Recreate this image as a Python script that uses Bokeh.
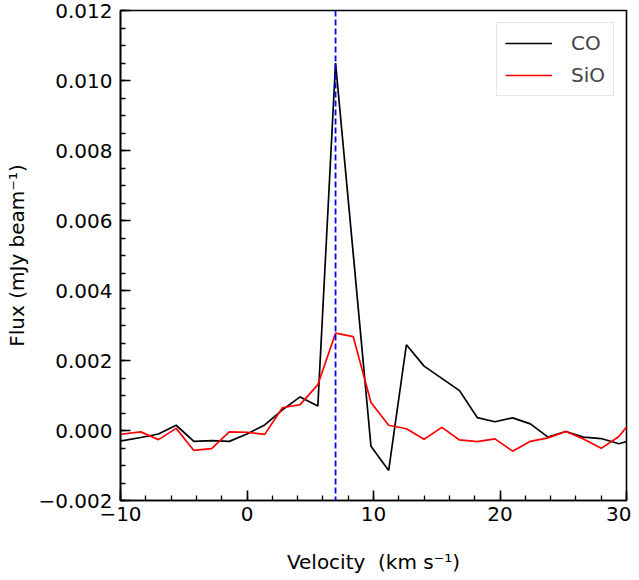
from bokeh.plotting import figure
from bokeh.models import Span, Legend, LegendItem, FixedTicker, CustomJSTickFormatter, Range1d
from bokeh.embed import file_html
from bokeh.resources import INLINE

# Velocity channels (km/s)
velocity = [-11.2, -9.8, -8.4, -7.0, -5.6, -4.2, -2.8, -1.4, 0.0, 1.4, 2.8, 4.2, 5.6,
            7.0, 8.4, 9.8, 11.2, 12.6, 14.0, 15.4, 16.8, 18.2, 19.6, 21.0, 22.4,
            23.8, 25.2, 26.6, 28.0, 29.4, 30.8]
co_flux = [-0.00030, -0.00029, -0.00020, -0.00010, 0.00015, -0.00031, -0.00029, -0.00031,
           -0.00010, 0.00016, 0.00059, 0.00096, 0.00070, 0.01050, 0.00504, -0.00045,
           -0.00114, 0.00245, 0.00184, 0.00149, 0.00114, 0.00037, 0.00025, 0.00036,
           0.00019, -0.00019, -0.00003, -0.00019, -0.00023, -0.00038, -0.00023]
sio_flux = [-0.00020, -0.00010, -0.00004, -0.00026, 0.00006, -0.00057, -0.00052, -0.00004,
            -0.00005, -0.00011, 0.00065, 0.00074, 0.00131, 0.00278, 0.00268, 0.00080,
            0.00015, 0.00005, -0.00025, 0.00009, -0.00027, -0.00032, -0.00024, -0.00059,
            -0.00031, -0.00021, -0.00003, -0.00024, -0.00051, -0.00017, 0.00046]
v_sys = 7.0
x_major = [-10, 0, 10, 20, 30]
x_minor = [-10 + 2 * i for i in range(21)]
y_major = [-0.002, 0.0, 0.002, 0.004, 0.006, 0.008, 0.010, 0.012]
y_minor = [round(-0.002 + 0.0005 * i, 4) for i in range(29)]

FONT = "DejaVu Sans"

p = figure(width=631, height=578, output_backend="svg", toolbar_location=None,
           x_range=Range1d(-10, 30), y_range=Range1d(-0.002, 0.012),
           min_border_left=120, min_border_right=5, min_border_top=10, min_border_bottom=78)
p.background_fill_color = "white"
p.border_fill_color = "white"
p.grid.visible = False
p.outline_line_color = "black"
p.outline_line_width = 1.6
p.outline_line_alpha = 1.0

co = p.line(velocity, co_flux, line_color="black", line_width=1.7)
sio = p.line(velocity, sio_flux, line_color="red", line_width=1.7)

p.add_layout(Span(location=v_sys, dimension="height", line_color="blue",
                  line_dash="6 3", line_width=1.8))

p.xaxis.ticker = FixedTicker(ticks=x_major, minor_ticks=x_minor)
p.yaxis.ticker = FixedTicker(ticks=y_major, minor_ticks=y_minor)
p.xaxis.formatter = CustomJSTickFormatter(code="return (tick < 0 ? '\u2212' : '') + Math.abs(tick).toFixed(0);")
p.yaxis.formatter = CustomJSTickFormatter(code="return (tick < -1e-9 ? '\u2212' : '') + Math.abs(tick).toFixed(3);")

for ax in (p.xaxis[0], p.yaxis[0]):
    ax.axis_line_color = "black"
    ax.axis_line_width = 1.6
    ax.major_tick_in = 10
    ax.major_tick_out = 0
    ax.minor_tick_in = 5
    ax.minor_tick_out = 0
    ax.major_tick_line_width = 1.6
    ax.minor_tick_line_width = 1.3
    ax.major_label_text_font = FONT
    ax.major_label_text_font_size = "20px"
    ax.major_label_text_color = "black"
    ax.axis_label_text_font = FONT
    ax.axis_label_text_font_size = "20px"
    ax.axis_label_text_font_style = "normal"
    ax.axis_label_text_color = "black"

p.xaxis.axis_label = "Velocity\u00a0\u00a0(km s\u207b\u00b9)"
p.yaxis.axis_label = "Flux (mJy beam\u207b\u00b9)"
p.xaxis.major_label_standoff = 6
p.xaxis.axis_label_standoff = 26
p.yaxis.major_label_standoff = 8
p.yaxis.axis_label_standoff = 6

legend = Legend(items=[LegendItem(label="CO", renderers=[co]),
                       LegendItem(label="SiO", renderers=[sio])],
                location="top_right")
legend.label_text_font = FONT
legend.label_text_font_size = "20px"
legend.glyph_width = 47
legend.glyph_height = 20
legend.label_standoff = 19
legend.padding = 8
legend.spacing = 8
legend.margin = 12
legend.border_line_color = "#cccccc"
legend.border_line_width = 1
legend.background_fill_color = "white"
legend.background_fill_alpha = 0.8
p.add_layout(legend)

open("out.html", "w").write(file_html(p, INLINE))
